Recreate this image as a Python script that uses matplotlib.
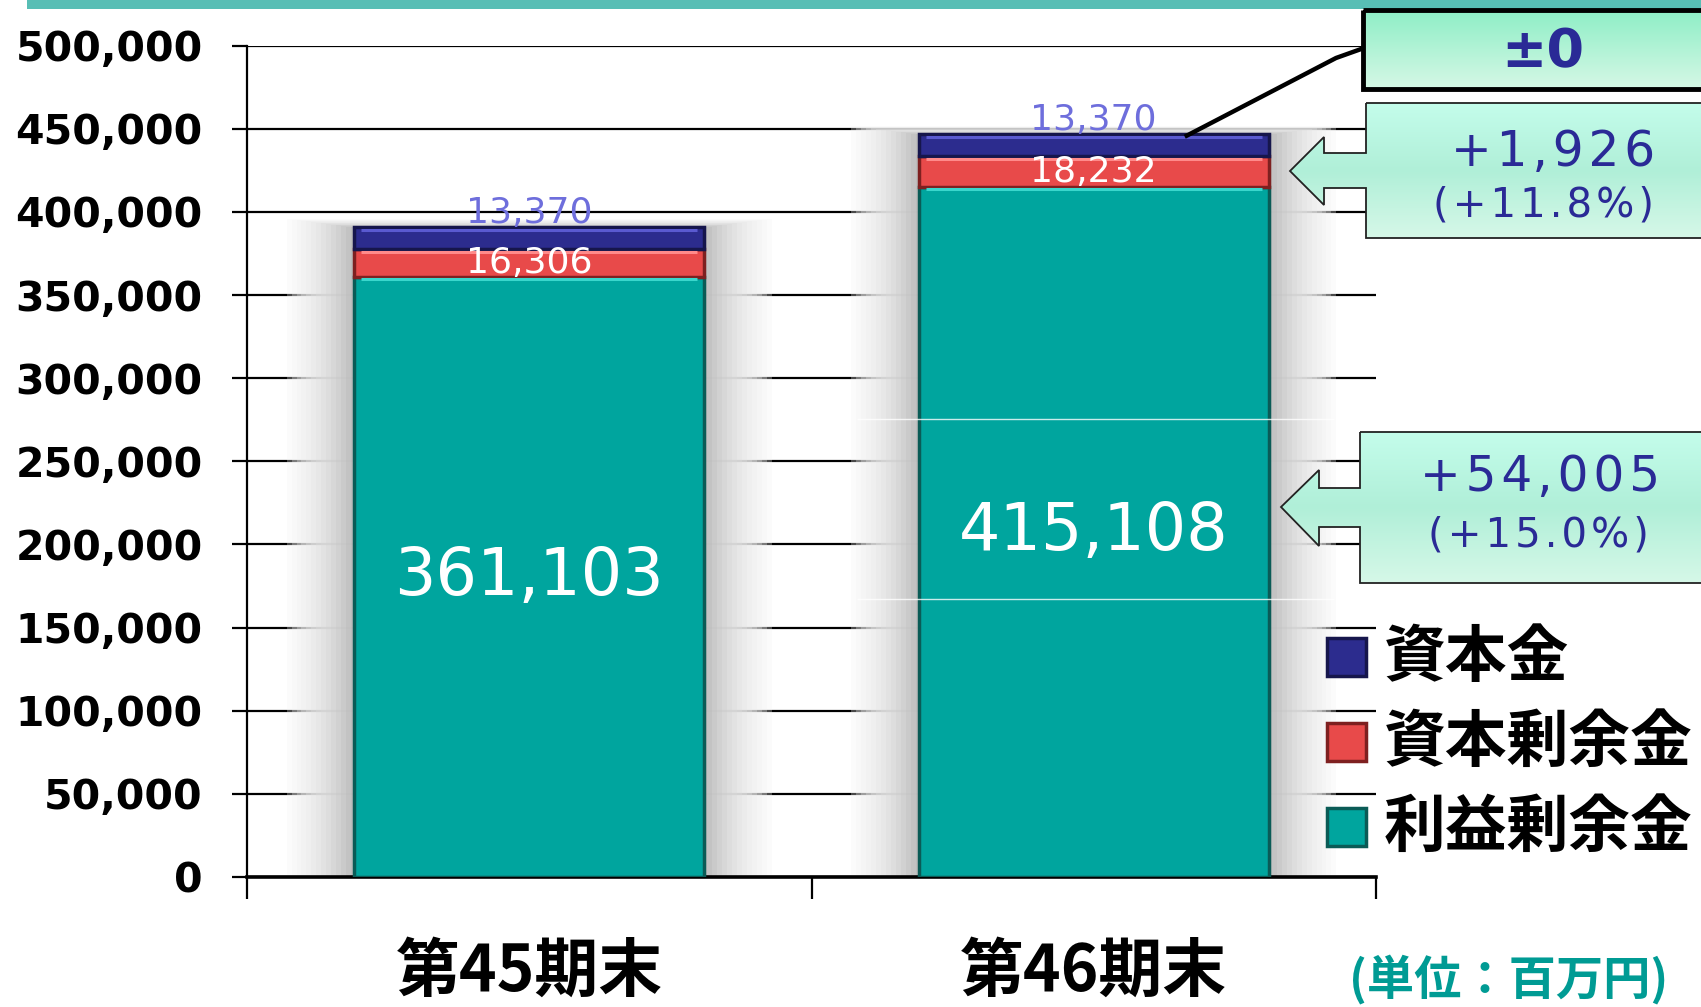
"""Stacked equity chart: 資本金 / 資本剰余金 / 利益剰余金, 第45期末 vs 第46期末."""

import matplotlib
matplotlib.use("Agg")
import matplotlib.pyplot as plt
import numpy as np
from matplotlib.colors import LinearSegmentedColormap
from matplotlib.patches import Polygon, Rectangle

W, H = 1701, 1007

periods = ["第45期末", "第46期末"]
retained_earnings = [361103, 415108]   # 利益剰余金
capital_surplus = [16306, 18232]        # 資本剰余金
capital_stock = [13370, 13370]          # 資本金
legend_names = ["資本金", "資本剰余金", "利益剰余金"]
ytick_values = list(range(0, 500001, 50000))
change_capital = "±0"
change_surplus = ["+1,926", "(+11.8%)"]
change_retained = ["+54,005", "(+15.0%)"]
unit_label = "(単位：百万円)"

TEAL, TEAL_EDGE, TEAL_HI = "#00A59E", "#0A5B56", "#3AD6CC"
RED, RED_EDGE, RED_HI = "#E84A4A", "#7E2020", "#FF8A8A"
NAVY, NAVY_EDGE, NAVY_HI = "#2C2C8E", "#16164C", "#5A5AD0"
TEXT_NAVY = "#2A2A96"
CJK = ["Noto Sans CJK JP", "DejaVu Sans"]
BAR_W = 0.62

plt.rcParams["font.family"] = ["DejaVu Sans", "Noto Sans CJK JP"]


def spaced(text, gap="\u200a"):
    return gap.join(text)


def gradient_shape(axis, verts, stops, edgecolor, lw):
    shape = Polygon(verts, closed=True, facecolor="none", edgecolor=edgecolor,
                    linewidth=lw, zorder=3)
    axis.add_patch(shape)
    xs = [v[0] for v in verts]
    ys = [v[1] for v in verts]
    cmap = LinearSegmentedColormap.from_list("fill", stops)
    grad = np.linspace(0, 1, 256).reshape(-1, 1)
    image = axis.imshow(grad, cmap=cmap, origin="upper", aspect="auto", zorder=2,
                        extent=(min(xs), max(xs), max(ys), min(ys)))
    image.set_clip_path(shape)


fig = plt.figure(figsize=(W / 100, H / 100), dpi=100)
ax = fig.add_axes([247 / W, 1 - 877 / H, 1129 / W, (877 - 45.6) / H])

x = np.arange(len(periods)) + 0.5
retained = np.array(retained_earnings)
surplus = np.array(capital_surplus)
capital = np.array(capital_stock)
totals = retained + surplus + capital

# soft shadow behind the bars (translucent so gridlines fade rather than vanish)
layers = 14
for k in range(layers):
    t = k / (layers - 1)
    g = 0.96 - 0.28 * t ** 1.5
    ax.bar(x, totals + 5000 * (1 - t), width=BAR_W + 0.01 + 0.23 * (1 - t),
           color=(g, g, g), alpha=0.3, linewidth=0, zorder=2)

segments = [
    (retained, np.zeros_like(retained), TEAL, TEAL_EDGE, TEAL_HI),
    (surplus, retained, RED, RED_EDGE, RED_HI),
    (capital, retained + surplus, NAVY, NAVY_EDGE, NAVY_HI),
]
containers = []
for values, bottom, face, edge, light in segments:
    bars = ax.bar(x, values, BAR_W, bottom=bottom, color=face, edgecolor=edge,
                  lw=2.5, zorder=3)
    containers.append(bars)
    # bevel highlight just inside the top edge of every segment
    ax.hlines(bottom + values - 1400, x - BAR_W / 2 + 0.012, x + BAR_W / 2 - 0.012,
              color=light, lw=2.2, zorder=3.5)
bars_ret, bars_sur, bars_cap = containers

ax.bar_label(bars_ret, labels=[f"{v:,}" for v in retained], label_type="center",
             color="white", fontsize=47, zorder=4)
ax.bar_label(bars_sur, labels=[f"{v:,}" for v in surplus], label_type="center",
             color="white", fontsize=26, zorder=4)
ax.bar_label(bars_cap, labels=[f"{v:,}" for v in capital], label_type="edge",
             padding=-2, color="#6E6EDC", fontsize=26, zorder=4)

ax.set_xlim(0, 2)
ax.set_ylim(0, 500000)
ax.set_yticks(ytick_values, labels=[f"{v:,}" for v in ytick_values],
              fontsize=29.5, fontweight="bold")
ax.set_xticks([0, 1, 2], labels=[])
ax.set_xticks(x, minor=True, labels=periods, fontsize=46, fontweight="bold", family=CJK)
ax.tick_params(axis="y", length=10.8, width=1.6, pad=21)
ax.tick_params(axis="x", which="major", length=15.6, width=1.6)
ax.tick_params(axis="x", which="minor", length=0, pad=45)
ax.yaxis.grid(True, color="black", linewidth=1.6)
ax.set_axisbelow(True)
for side in ("top", "right"):
    ax.spines[side].set_visible(False)
ax.spines["left"].set_linewidth(1.6)
ax.spines["bottom"].set_linewidth(2.6)

# overlay in pixel coordinates for callouts, legend and notes
ov = fig.add_axes([0, 0, 1, 1], zorder=5)
ov.patch.set_alpha(0)
ov.axis("off")
ov.set_xlim(0, W)
ov.set_ylim(H, 0)

ov.add_patch(Rectangle((27, 0), W, 9, facecolor="#58BEB5", edgecolor="none"))

# faint edges of the text frame lying over the second bar
ov.hlines([419, 599], 857, 1334, color="white", lw=1, alpha=0.8, zorder=1)

# ±0 box and connector to the 資本金 segment
gradient_shape(ov, [(1363, 10), (1730, 10), (1730, 89), (1363, 89)],
               ["#8EEEC6", "#D6F8E6"], "black", 3.5)
ov.text(1543, 52, change_capital, color=TEXT_NAVY, fontsize=39, fontweight="bold",
        ha="center", va="center", zorder=4)
ov.set_xlim(0, W)
ov.set_ylim(H, 0)
anchor = ov.transData.inverted().transform(
    ax.transData.transform((x[1] + BAR_W * 0.26, totals[1] - 1500)))
ov.plot([anchor[0], 1336, 1364], [anchor[1], 58, 48], color="black", lw=3.2,
        solid_capstyle="butt", zorder=4)

# arrow callouts
gradient_shape(ov, [(1366, 103), (1730, 103), (1730, 238), (1366, 238), (1366, 188),
                    (1324, 188), (1324, 205), (1290, 171), (1324, 137), (1324, 153),
                    (1366, 153)],
               ["#C4FDEB", "#B0EFD8", "#D6F8E8"], "#222222", 1.3)
ov.text(1553, 152, spaced(change_surplus[0]), color=TEXT_NAVY, fontsize=35,
        ha="center", va="center", zorder=4)
ov.text(1543, 205, spaced(change_surplus[1]), color=TEXT_NAVY, fontsize=29,
        ha="center", va="center", zorder=4)

gradient_shape(ov, [(1360, 432), (1730, 432), (1730, 583), (1360, 583), (1360, 527),
                    (1319, 527), (1319, 546), (1281, 507), (1319, 470), (1319, 488),
                    (1360, 488)],
               ["#C4FDEB", "#B0EFD8", "#D6F8E8"], "#222222", 1.3)
ov.text(1540, 477, spaced(change_retained[0]), color=TEXT_NAVY, fontsize=35,
        ha="center", va="center", zorder=4)
ov.text(1538, 536, spaced(change_retained[1]), color=TEXT_NAVY, fontsize=29,
        ha="center", va="center", zorder=4)

# legend
legend_colors = [(NAVY, NAVY_EDGE), (RED, RED_EDGE), (TEAL, TEAL_EDGE)]
for row, (name, (face, edge)) in enumerate(zip(legend_names, legend_colors)):
    yc = 657 + row * 85
    ov.add_patch(Rectangle((1327, yc - 19), 39, 38, facecolor=face, edgecolor=edge,
                           linewidth=2.5, zorder=4))
    ov.text(1384, yc, name, fontsize=44.5, fontweight="bold", family=CJK,
            ha="left", va="center", zorder=4)

ov.text(1509, 980, unit_label, color="#009B94", fontsize=34, fontweight="bold",
        family=CJK, ha="center", va="center")

ov.set_xlim(0, W)
ov.set_ylim(H, 0)

fig.savefig("out.png", dpi=100)
